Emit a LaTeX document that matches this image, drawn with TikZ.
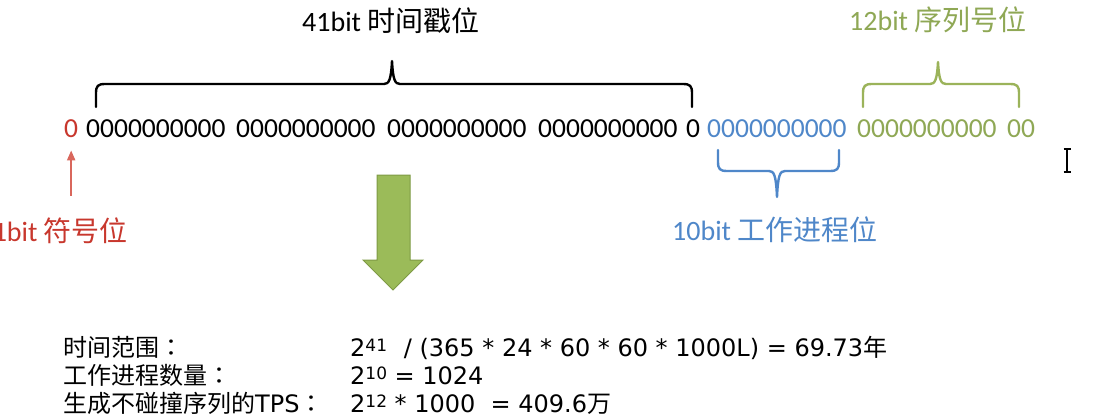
\documentclass[tikz,border=0pt]{standalone}
\usepackage{fontspec}
\setmainfont{Carlito}
\newfontfamily\cjk{Noto Sans CJK SC}
\newfontfamily\cjkjp{Noto Sans CJK JP}
\newfontfamily\dvs{DejaVu Sans}
\usetikzlibrary{arrows.meta}
\definecolor{myred}{HTML}{C8372D}
\definecolor{myredarrow}{HTML}{D9675C}
\definecolor{myblue}{HTML}{4F87C9}
\definecolor{mygreen}{HTML}{8FA855}
\definecolor{mygreenbrace}{HTML}{9BB35A}
\definecolor{arrowfill}{HTML}{9BBB59}
\definecolor{arrowedge}{HTML}{7E9A45}
\newcommand\supnum[1]{\raisebox{5pt}{\fontsize{17}{17}\selectfont #1}}
\begin{document}
\begin{tikzpicture}[x=1pt,y=-1pt,
  bits/.style={anchor=base west, inner sep=0pt, font=\fontsize{27.5}{30}\selectfont},
  lab/.style={anchor=base west, inner sep=0pt, font=\fontsize{28}{30}\selectfont},
  info/.style={anchor=base west, inner sep=0pt, font=\fontsize{24}{26}\selectfont},
  infodv/.style={anchor=base west, inner sep=0pt, font=\dvs\fontsize{24}{26}\selectfont},
  bracepath/.style={line width=2.4pt, line cap=round, line join=round},
  redarrow/.style={myredarrow, line width=2pt, -{Triangle[width=8pt,length=10pt]}},
]
\fill[white] (0,0) rectangle (1095,420);
\useasboundingbox (0,0) rectangle (1095,420);

% bit string
\node[bits, text=myred] (b0) at (64,137.5) {0};
\node[bits] (g1) at (86,137.5) {0000000000};
\node[bits] (g2) at (236,137.5) {0000000000};
\node[bits] (g3) at (387,137.5) {0000000000};
\node[bits] (g4) at (538,137.5) {0000000000};
\node[bits] (b41) at (686,137.5) {0};
\node[bits, text=myblue] (w) at (707,137.5) {0000000000};
\node[bits, text=mygreen] (s1) at (857,137.5) {0000000000};
\node[bits, text=mygreen] (s2) at (1007,137.5) {00};

% labels
\node[lab] (l41) at (302,32) {41bit {\cjk 时间戳位}};
\node[lab, text=mygreen] (l12) at (849,31) {12bit {\cjk 序列号位}};
\node[lab, text=myblue] (l10) at (672,240) {10bit {\cjk 工作进程位}};
\node[lab, text=myred, anchor=base east] (l1) at (128,241) {1bit {\cjk 符号位}};

% braces
\draw[bracepath, black] (96,107) -- (96,93) .. controls (96,86) and (98,84) .. (105,84)
  -- (384,84) .. controls (389,84) and (391,80) .. (392,61)
  .. controls (393,80) and (395,84) .. (400,84)
  -- (683,84) .. controls (690,84) and (692,86) .. (692,93) -- (692,107);
\draw[bracepath, mygreenbrace] (863,107) -- (863,93) .. controls (863,86) and (865,84) .. (872,84)
  -- (930,84) .. controls (935,84) and (937,80) .. (938,62)
  .. controls (939,80) and (941,84) .. (946,84)
  -- (1010,84) .. controls (1017,84) and (1019,86) .. (1019,93) -- (1019,107);
\draw[bracepath, myblue] (718,150) -- (718,162) .. controls (718,169) and (720,171) .. (727,171)
  -- (769,171) .. controls (774,171) and (776,175) .. (777,197)
  .. controls (778,175) and (780,171) .. (785,171)
  -- (830,171) .. controls (837,171) and (839,169) .. (839,162) -- (839,150);

% red arrow
\draw[redarrow] ([yshift=-58pt]b0.south) -- ([yshift=-12.5pt]b0.south);

% big green arrow
\filldraw[fill=arrowfill, draw=arrowedge, line width=1pt, line join=miter]
  (377,175) -- (410,175) -- (410,260) -- (423,260) -- (393,290) -- (363,260) -- (377,260) -- cycle;

% cursor
\draw[line width=1.3pt] (1067,150) -- (1067,171);
\draw[line width=1.1pt] (1063.5,149) -- (1070.5,149);
\draw[line width=1.1pt] (1063.5,172) -- (1070.5,172);

% bottom text
\node[info] (t1) at (63,356.5) {{\cjk 时间范围}{\cjkjp ：}};
\node[info] (t2) at (63,384.5) {{\cjk 工作进程数量}{\cjkjp ：}};
\node[info] (t3) at (63,412) {{\cjk 生成不碰撞序列的}{\dvs TPS}{\cjkjp ：}};
\node[infodv] (f1) at (350,356.5) {2\supnum{41}\hspace{0.7em}/ (365 * 24 * 60 * 60 * 1000L) = 69.73{\cjk 年}};
\node[infodv] (f2) at (350,384.5) {2\supnum{10} = 1024};
\node[infodv] (f3) at (350,412) {2\supnum{12} * 1000\ \ = 409.6{\cjk 万}};
\end{tikzpicture}
\end{document}
